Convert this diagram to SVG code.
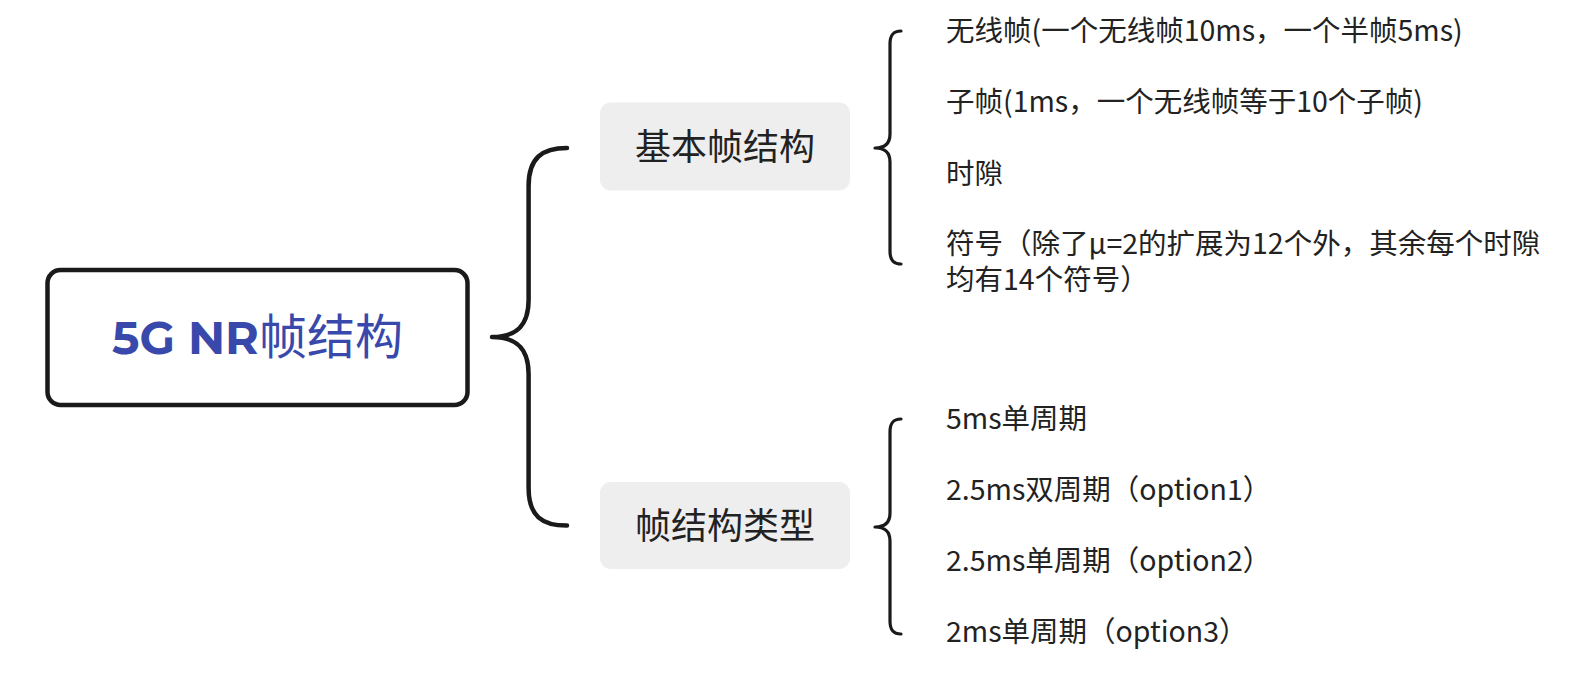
<svg xmlns="http://www.w3.org/2000/svg" width="1591" height="693" viewBox="0 0 1591 693">
  <style>
    .root-box { fill: #ffffff; stroke: #1a1a1a; stroke-width: 4.5; }
    .root-text { font-family: "Montserrat", "Lato", "Noto Sans CJK SC", sans-serif; font-size: 46px; font-weight: 700; fill: #3949ab; }
    .root-cjk { font-family: "Noto Sans CJK SC", sans-serif; font-weight: 400; font-size: 48px; }
    .branch-box { fill: #eeeeee; stroke: none; }
    .branch-text { font-family: "Noto Sans CJK SC", sans-serif; font-size: 36px; fill: #222222; }
    .leaf-text { font-family: "Noto Sans CJK SC", sans-serif; font-size: 28.5px; fill: #222222; }
    .brace-big { fill: none; stroke: #1a1a1a; stroke-width: 4.5; stroke-linecap: round; stroke-linejoin: round; }
    .brace-small { fill: none; stroke: #1a1a1a; stroke-width: 3.2; stroke-linecap: round; stroke-linejoin: round; }
  </style>

  <rect width="1591" height="693" fill="#ffffff"/>

  <!-- connectors: curly braces -->
  <g id="connectors">
    <path class="brace-big" d="M567,148 C542,148 528.6,158 528.6,186 L528.6,300 C528.6,326 516,337 492,337 C516,337 528.6,348 528.6,374 L528.6,488 C528.6,516 542,525.6 567,525.6"/>
    <path class="brace-small" d="M901,31 C893,31 890,35 890,44 L890,134 C890,143 885,148 875,148 C885,148 890,153 890,162 L890,251 C890,260 893,264 901,264"/>
    <path class="brace-small" d="M901,419 C893,419 890,423 890,432 L890,513 C890,522 885,527 875,527 C885,527 890,532 890,541 L890,621 C890,630 893,634 901,634"/>
  </g>

  <!-- root topic -->
  <g id="node-root">
    <rect class="root-box" x="47.5" y="270" width="420" height="135" rx="13"/>
    <text class="root-text" x="257.5" y="354" text-anchor="middle">5G NR<tspan class="root-cjk">帧结构</tspan></text>
  </g>

  <!-- main branches -->
  <g id="node-basic">
    <rect class="branch-box" x="600" y="102.5" width="250" height="88" rx="11"/>
    <text class="branch-text" x="725" y="160" text-anchor="middle">基本帧结构</text>
  </g>
  <g id="node-types">
    <rect class="branch-box" x="600" y="482" width="250" height="87" rx="11"/>
    <text class="branch-text" x="725" y="539" text-anchor="middle">帧结构类型</text>
  </g>

  <!-- leaves of 基本帧结构 -->
  <g id="leaf-radio-frame"><text class="leaf-text" x="946" y="41">无线帧(一个无线帧10ms，一个半帧5ms)</text></g>
  <g id="leaf-subframe"><text class="leaf-text" x="946" y="112">子帧(1ms，一个无线帧等于10个子帧)</text></g>
  <g id="leaf-slot"><text class="leaf-text" x="946" y="184">时隙</text></g>
  <g id="leaf-symbol">
    <text class="leaf-text" x="946" y="254"><tspan x="946" y="254">符号（除了μ=2的扩展为12个外，其余每个时隙</tspan><tspan x="946" y="290">均有14个符号）</tspan></text>
  </g>

  <!-- leaves of 帧结构类型 -->
  <g id="leaf-5ms"><text class="leaf-text" x="946" y="429">5ms单周期</text></g>
  <g id="leaf-opt1"><text class="leaf-text" x="946" y="500">2.5ms双周期（option1）</text></g>
  <g id="leaf-opt2"><text class="leaf-text" x="946" y="571">2.5ms单周期（option2）</text></g>
  <g id="leaf-opt3"><text class="leaf-text" x="946" y="642">2ms单周期（option3）</text></g>
</svg>
